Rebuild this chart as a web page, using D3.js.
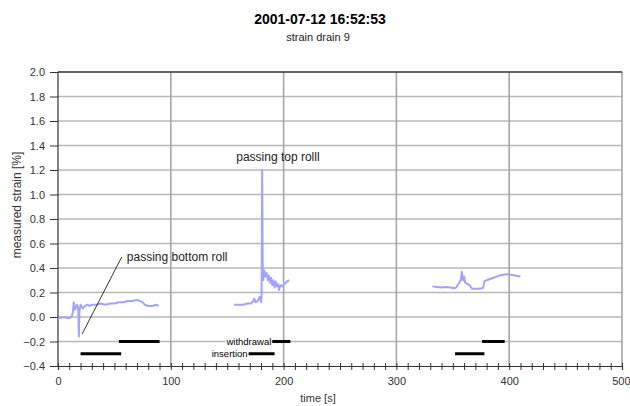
<!DOCTYPE html>
<html>
<head>
<meta charset="utf-8">
<script src="https://cdn.jsdelivr.net/npm/d3@7"></script>
<style>
  body { margin: 0; background: #fff; }
  svg { font-family: 'Liberation Sans', Arial, sans-serif; }
</style>
</head>
<body>
<div id="chart"></div>
<script>
// strain drain 9, three passes (time [s], strain [%])
const pass1 = [[0,-0.01],[3,-0.005],[6,0.0],[9,-0.01],[12,0.0],[13,0.03],[14,0.12],[15,0.06],[16,0.08],[17,0.1],[18,0.06],[18.5,-0.16],[19,0.05],[20,0.1],[22,0.07],[24,0.09],[26,0.1],[28,0.09],[30,0.1],[34,0.1],[38,0.11],[42,0.1],[46,0.11],[50,0.11],[54,0.12],[58,0.12],[62,0.13],[66,0.13],[70,0.14],[73,0.13],[75,0.12],[77,0.1],[80,0.09],[84,0.09],[87,0.1],[89,0.09]]
const pass2 = [[156,0.1],[160,0.1],[164,0.1],[168,0.11],[171,0.11],[173,0.13],[174,0.15],[175,0.12],[177,0.13],[179,0.165],[180,0.12],[180.5,0.16],[181,1.2],[181.5,0.4],[182,0.3],[183,0.38],[184,0.33],[185,0.36],[186,0.3],[187,0.34],[188,0.28],[189,0.32],[190,0.26],[191,0.3],[192,0.24],[193,0.29],[194,0.25],[195,0.27],[196,0.22],[197,0.26],[199,0.25],[201,0.27],[203,0.29],[205,0.3]]
const pass3 = [[332,0.25],[336,0.245],[340,0.24],[344,0.245],[348,0.24],[351,0.235],[353,0.24],[355,0.27],[357,0.3],[358,0.37],[359,0.3],[360,0.33],[361,0.28],[363,0.27],[365,0.26],[367,0.23],[370,0.23],[373,0.23],[376,0.235],[377,0.24],[378,0.29],[380,0.3],[383,0.31],[386,0.32],[389,0.33],[392,0.34],[395,0.345],[398,0.35],[401,0.345],[404,0.34],[407,0.335],[410,0.33]]

// insertion / withdrawal periods [start, end] in s
const insertion = [[20,56],[169,192],[352,378]]
const withdrawal = [[54,90],[190,206],[376,396]]
const insertionLevel = -0.3
const withdrawalLevel = -0.2

const yTicks = [-0.4,-0.2,0,0.2,0.4,0.6,0.8,1.0,1.2,1.4,1.6,1.8,2.0]
const xTicks = [0,100,200,300,400,500]

const title = '2001-07-12 16:52:53'
const subtitle = 'strain drain 9'

const W = 630, H = 406
const margin = { top: 72, right: 8, bottom: 40, left: 58 }

const x = d3.scaleLinear().domain([0, 500]).range([margin.left, W - margin.right])
const y = d3.scaleLinear().domain([-0.4, 2.0]).range([H - margin.bottom, margin.top])

const svg = d3.select('#chart').append('svg')
  .attr('width', W)
  .attr('height', H)

// titles
svg.append('text')
  .attr('x', 320).attr('y', 24)
  .attr('text-anchor', 'middle')
  .style('font-size', '14px').style('font-weight', 'bold').style('fill', '#000')
  .text(title)
svg.append('text')
  .attr('x', 318).attr('y', 41)
  .attr('text-anchor', 'middle')
  .style('font-size', '11px').style('fill', '#222')
  .text(subtitle)

// horizontal grid
svg.append('g').selectAll('line')
  .data(yTicks.filter(d => d > -0.4 && d < 2.0))
  .enter().append('line')
  .attr('x1', x(0)).attr('x2', x(500))
  .attr('y1', d => y(d)).attr('y2', d => y(d))
  .style('stroke', '#b8b8b8').style('stroke-width', 1.5)

// vertical grid
svg.append('g').selectAll('line')
  .data(xTicks.filter(d => d > 0))
  .enter().append('line')
  .attr('x1', d => x(d)).attr('x2', d => x(d))
  .attr('y1', y(2.0)).attr('y2', y(-0.4))
  .style('stroke', '#a6a6a6').style('stroke-width', 1.6)

// top border
svg.append('line')
  .attr('x1', x(0)).attr('x2', x(500))
  .attr('y1', y(2.0)).attr('y2', y(2.0))
  .style('stroke', '#333').style('stroke-width', 1.5)

// y axis
let yAxis = d3.axisLeft(y).tickValues(yTicks).tickFormat(d3.format('.1f')).tickSize(8).tickPadding(5)
let yGuide = svg.append('g').attr('transform', 'translate(' + x(0) + ',0)')
yAxis(yGuide)

// x axis with minor ticks every 10 s
let xAxis = d3.axisBottom(x).tickValues(d3.range(0, 501, 10)).tickSize(4)
  .tickFormat(d => xTicks.includes(d) ? d : '')
let xGuide = svg.append('g').attr('transform', 'translate(0,' + y(-0.4) + ')')
xAxis(xGuide)
xGuide.selectAll('.tick line').attr('y1', -3)
xGuide.selectAll('.tick text').attr('dy', '1.1em')
// keep the last label inside the page
xGuide.selectAll('.tick text').filter(d => d === 500).attr('text-anchor', 'end').attr('x', 8)

svg.selectAll('.domain').style('stroke', '#333').style('stroke-width', 1.2)
svg.selectAll('.tick line').style('stroke', '#333')
svg.selectAll('.tick text').style('font-size', '11px').style('fill', '#333')
  .style('font-family', "'Liberation Sans', Arial, sans-serif")
yGuide.select('.domain').attr('d', 'M0,' + y(2.0) + 'V' + y(-0.4))

// axis titles
svg.append('text')
  .attr('x', 318).attr('y', 402)
  .attr('text-anchor', 'middle')
  .style('font-size', '11px').style('fill', '#333')
  .text('time [s]')
svg.append('text')
  .attr('transform', 'translate(21,' + ((y(2.0) + y(-0.4)) / 2 - 14) + ') rotate(-90)')
  .attr('text-anchor', 'middle')
  .style('font-size', '12px').style('fill', '#333')
  .text('measured strain [%]')

// strain lines
let line = d3.line().x(d => x(d[0])).y(d => y(d[1]))
svg.append('g').selectAll('path')
  .data([pass1, pass2, pass3])
  .enter().append('path')
  .attr('d', line)
  .style('fill', 'none')
  .style('stroke', '#a3a3ff')
  .style('stroke-width', 2)
  .style('stroke-linejoin', 'round')

// insertion / withdrawal bars
let bars = insertion.map(d => ({ s: d[0], e: d[1], v: insertionLevel }))
  .concat(withdrawal.map(d => ({ s: d[0], e: d[1], v: withdrawalLevel })))
svg.append('g').selectAll('line')
  .data(bars)
  .enter().append('line')
  .attr('x1', d => x(d.s)).attr('x2', d => x(d.e))
  .attr('y1', d => y(d.v)).attr('y2', d => y(d.v))
  .style('stroke', '#000').style('stroke-width', 3)

// small labels for the second pass
const smallLabels = [
  { text: 'withdrawal', t: withdrawal[1][0], v: withdrawalLevel },
  { text: 'insertion', t: insertion[1][0], v: insertionLevel }
]
smallLabels.forEach(l => {
  let g = svg.append('g')
  let txt = g.append('text')
    .attr('x', x(l.t) - 1).attr('y', y(l.v) + 3.5)
    .attr('text-anchor', 'end')
    .style('font-size', '9.5px').style('fill', '#000')
    .text(l.text)
  let bb = txt.node().getBBox()
  g.insert('rect', 'text')
    .attr('x', bb.x).attr('y', bb.y)
    .attr('width', bb.width).attr('height', bb.height)
    .style('fill', '#fff')
})

// annotations
svg.append('line')
  .attr('x1', x(56.5)).attr('y1', y(0.49))
  .attr('x2', x(21.3)).attr('y2', y(-0.14))
  .style('stroke', '#000').style('stroke-width', 0.8)
svg.append('text')
  .attr('x', x(61)).attr('y', y(0.455))
  .style('font-size', '12px').style('fill', '#222')
  .text('passing bottom roll')
svg.append('text')
  .attr('x', x(158)).attr('y', y(1.27))
  .style('font-size', '12px').style('fill', '#222')
  .text('passing top rolll')
</script>
</body>
</html>
